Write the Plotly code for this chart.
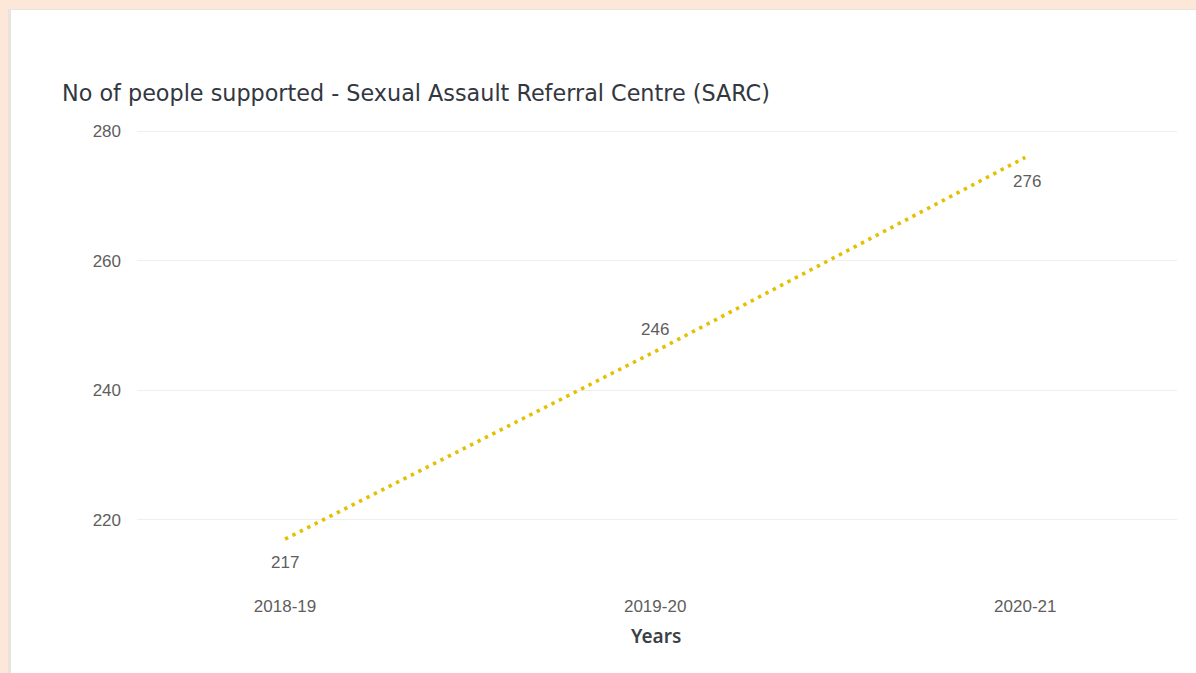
import plotly.graph_objects as go

# Data
years = ["2018-19", "2019-20", "2020-21"]
people = [217, 246, 276]
y_ticks = [220, 240, 260, 280]

title_text = "No of people supported - Sexual Assault Referral Centre (SARC)"
x_title = "Years"

W, H = 1196, 673
ML, MR, MT, MB = 137, 19, 125, 95
plot_w = W - ML - MR
plot_h = H - MT - MB


def px_to_paper_x(px):
    return (px - ML) / plot_w


def px_to_paper_y(py):
    return (H - MB - py) / plot_h


label_font = dict(family="Liberation Sans, Arial, sans-serif", size=17, color="#605E5C")

fig = go.Figure()
fig.add_trace(go.Scatter(
    x=years,
    y=people,
    mode="lines",
    line=dict(color="#E3C000", width=3.6, dash="3.4px,4.9px"),
    hoverinfo="x+y",
    showlegend=False,
))

# Data labels: first and last below the point, middle one above
shifts = [-23, 22, -24]
xshifts = [0, 0, 2]
for yr, v, s, xs in zip(years, people, shifts, xshifts):
    fig.add_annotation(x=yr, y=v, text=str(v), showarrow=False,
                       yshift=s, xshift=xs, font=label_font)

# Axis title
fig.add_annotation(xref="paper", yref="paper",
                   x=px_to_paper_x(656), y=px_to_paper_y(636),
                   text=x_title, showarrow=False, xanchor="center", yanchor="middle",
                   font=dict(family="Noto Sans, sans-serif", size=19, weight=600,
                             color="#3B3F47"))

# Card background with a faint shadow on the left
fig.add_shape(type="rect", xref="paper", yref="paper", layer="below",
              x0=px_to_paper_x(8), x1=px_to_paper_x(1220),
              y0=px_to_paper_y(720), y1=px_to_paper_y(9),
              fillcolor="#E9E2DD", line=dict(width=0))
fig.add_shape(type="rect", xref="paper", yref="paper", layer="below",
              x0=px_to_paper_x(11), x1=px_to_paper_x(1220),
              y0=px_to_paper_y(720), y1=px_to_paper_y(10),
              fillcolor="#FFFFFF", line=dict(width=0))

fig.update_layout(
    width=W, height=H,
    margin=dict(l=ML, r=MR, t=MT, b=MB, pad=0),
    paper_bgcolor="#FCE7D8",
    plot_bgcolor="rgba(0,0,0,0)",
    title=dict(text=title_text, xref="container", yref="container",
               x=62 / W, xanchor="left", y=1 - 93 / H, yanchor="middle",
               font=dict(family="DejaVu Sans, sans-serif", size=22.3,
                         color="#33373F")),
    xaxis=dict(
        type="category",
        range=[-0.4, 2.41],
        showgrid=False, zeroline=False, showline=False,
        ticks="", ticklabelstandoff=16,
        tickfont=label_font,
    ),
    yaxis=dict(
        range=[211, 281],
        tickvals=y_ticks,
        showgrid=True, gridcolor="#EFEFEF", gridwidth=1,
        zeroline=False, showline=False,
        ticks="", ticklabelstandoff=15,
        tickfont=label_font,
    ),
)

fig.write_html("out.html")
